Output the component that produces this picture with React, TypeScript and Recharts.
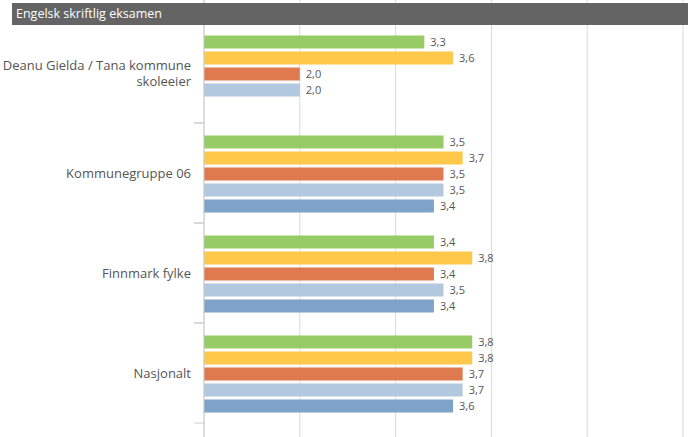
import { BarChart, Bar, XAxis, YAxis, CartesianGrid, LabelList } from "recharts";

const categories = [
  "Deanu Gielda / Tana kommune skoleeier",
  "Kommunegruppe 06",
  "Finnmark fylke",
  "Nasjonalt",
];

const serie1 = [3.3, 3.5, 3.4, 3.8];
const serie2 = [3.6, 3.7, 3.8, 3.8];
const serie3 = [2.0, 3.5, 3.4, 3.7];
const serie4 = [2.0, 3.5, 3.5, 3.7];
const serie5 = [null, 3.4, 3.4, 3.6];

const xTicks = [1, 2, 3, 4, 5, 6];

const series = [
  { key: "s1", values: serie1, color: "#97CB65" },
  { key: "s2", values: serie2, color: "#FEC84A" },
  { key: "s3", values: serie3, color: "#DF7A4F" },
  { key: "s4", values: serie4, color: "#B2C8DF" },
  { key: "s5", values: serie5, color: "#7EA2C8" },
];

const data = categories.map((name, i) => {
  const row: Record<string, string | number | null> = { name };
  series.forEach((s) => {
    row[s.key] = s.values[i];
  });
  return row;
});

const fmt = (v: unknown) =>
  v === null || v === undefined ? "" : Number(v).toFixed(1).replace(".", ",");

const FONT = "'Open Sans', sans-serif";

// simple word wrap by character count
function wrap(text: string, max: number) {
  const lines: string[] = [];
  let cur = "";
  text.split(" ").forEach((w) => {
    const next = cur ? cur + " " + w : w;
    if (next.length > max && cur) {
      lines.push(cur);
      cur = w;
    } else {
      cur = next;
    }
  });
  if (cur) lines.push(cur);
  return lines;
}

function CategoryTick(props: any) {
  const { x, y, payload } = props;
  const half = payload.offset ?? 50;
  const lines = wrap(String(payload.value), 28);
  const lh = 16;
  const startY = y - ((lines.length - 1) * lh) / 2;
  return (
    <g>
      <text
        x={x}
        y={startY}
        textAnchor="end"
        dominantBaseline="central"
        fill="#555"
        fontSize={13}
        fontFamily={FONT}
      >
        {lines.map((l, i) => (
          <tspan key={i} x={x} dy={i === 0 ? 0 : lh}>
            {l}
          </tspan>
        ))}
      </text>
      <line x1={x + 3} x2={x + 13} y1={y - half} y2={y - half} stroke="#ccc" />
      <line x1={x + 3} x2={x + 13} y1={y + half} y2={y + half} stroke="#ccc" />
    </g>
  );
}

export default function App() {
  return (
    <div style={{ position: "absolute", left: 0, top: 0, width: 696, height: 437, background: "#fff" }}>
      <BarChart
        width={696}
        height={437}
        data={data}
        layout="vertical"
        margin={{ top: 0, right: 13, bottom: 0, left: 0 }}
        barCategoryGap="12.5%"
        barGap={3}
      >
        <CartesianGrid horizontal={false} stroke="#d9d9d9" />
        <XAxis type="number" domain={[1, 6]} ticks={xTicks} hide />
        <YAxis
          type="category"
          dataKey="name"
          width={204}
          padding={{ top: 23, bottom: 14 }}
          tickLine={false}
          tickSize={0}
          tickMargin={13}
          axisLine={{ stroke: "#ccc" }}
          tick={<CategoryTick />}
          interval={0}
        />
        {series.map((s) => (
          <Bar key={s.key} dataKey={s.key} fill={s.color} isAnimationActive={false}>
            <LabelList
              dataKey={s.key}
              position="right"
              offset={6}
              formatter={fmt}
              fill="#555"
              fontSize={11}
              fontFamily={FONT}
            />
          </Bar>
        ))}
      </BarChart>
      <div
        style={{
          position: "absolute",
          left: 12,
          top: 3,
          width: 672,
          height: 22,
          background: "#646464",
          color: "#fff",
          fontFamily: FONT,
          fontSize: 12.5,
          lineHeight: "22px",
          paddingLeft: 4,
        }}
      >
        Engelsk skriftlig eksamen
      </div>
    </div>
  );
}
